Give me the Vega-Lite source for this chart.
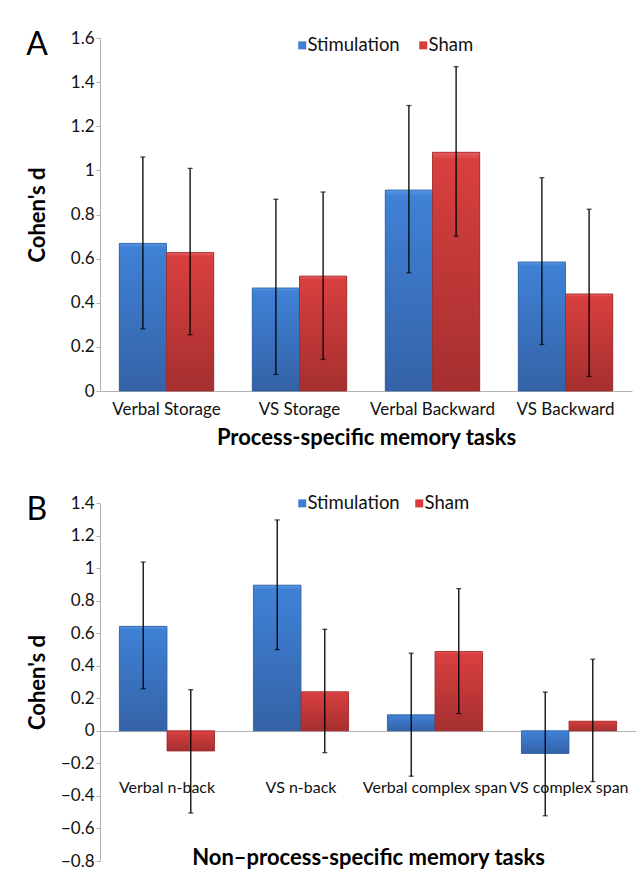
{
  "$schema": "https://vega.github.io/schema/vega-lite/v6.json",
  "padding": {"top": 29, "left": 26, "right": 0, "bottom": 0},
  "spacing": 46,
  "background": "white",
  "datasets": {
    "A": [
      {"task": "Verbal Storage", "series": "Stimulation", "d": 0.669, "lo": 0.282, "hi": 1.061},
      {"task": "Verbal Storage", "series": "Sham", "d": 0.628, "lo": 0.255, "hi": 1.009},
      {"task": "VS Storage", "series": "Stimulation", "d": 0.467, "lo": 0.075, "hi": 0.869},
      {"task": "VS Storage", "series": "Sham", "d": 0.521, "lo": 0.143, "hi": 0.902},
      {"task": "Verbal Backward", "series": "Stimulation", "d": 0.911, "lo": 0.536, "hi": 1.294},
      {"task": "Verbal Backward", "series": "Sham", "d": 1.082, "lo": 0.702, "hi": 1.47},
      {"task": "VS Backward", "series": "Stimulation", "d": 0.585, "lo": 0.211, "hi": 0.967},
      {"task": "VS Backward", "series": "Sham", "d": 0.44, "lo": 0.066, "hi": 0.824}
    ],
    "B": [
      {"task": "Verbal n-back", "series": "Stimulation", "d": 0.642, "lo": 0.259, "hi": 1.037},
      {"task": "Verbal n-back", "series": "Sham", "d": -0.124, "lo": -0.505, "hi": 0.253},
      {"task": "VS n-back", "series": "Stimulation", "d": 0.895, "lo": 0.499, "hi": 1.296},
      {"task": "VS n-back", "series": "Sham", "d": 0.24, "lo": -0.134, "hi": 0.624},
      {"task": "Verbal complex span", "series": "Stimulation", "d": 0.098, "lo": -0.279, "hi": 0.477},
      {"task": "Verbal complex span", "series": "Sham", "d": 0.487, "lo": 0.106, "hi": 0.874},
      {"task": "VS complex span", "series": "Stimulation", "d": -0.139, "lo": -0.522, "hi": 0.238},
      {"task": "VS complex span", "series": "Sham", "d": 0.059, "lo": -0.312, "hi": 0.44}
    ]
  },
  "vconcat": [
    {
      "width": 532,
      "height": 353,
      "data": {"name": "A"},
      "title": {"text": "A", "anchor": "start", "frame": "bounds", "fontSize": 32, "fontWeight": "normal", "baseline": "top", "offset": -33, "font": "Lato", "color": "#000000"},
      "encoding": {
        "x": {
          "field": "task", "type": "nominal", "sort": null,
          "scale": {"paddingInner": 0.29, "paddingOuter": 0.145},
          "axis": {"title": "Process-specific memory tasks", "labelAngle": 0, "ticks": false, "labelPadding": 10, "titlePadding": 10}
        },
        "xOffset": {"field": "series", "type": "nominal", "scale": {"domain": ["Stimulation", "Sham"]}}
      },
      "layer": [
        {
          "mark": {"type": "bar"},
          "encoding": {
            "y": {"field": "d", "type": "quantitative", "title": "Cohen's d",
              "scale": {"domain": [0, 1.6], "nice": false},
              "axis": {"values": [0, 0.2, 0.4, 0.6, 0.8, 1, 1.2, 1.4, 1.6], "format": "~g", "tickSize": 4, "labelPadding": 2, "titlePadding": 21, "labelOverlap": false}},
            "color": {"field": "series", "type": "nominal",
              "scale": {"domain": ["Stimulation", "Sham"], "range": ["#3d7fd4", "#d63c3c"]},
              "legend": {"orient": "none", "legendX": 193, "legendY": -2, "direction": "horizontal", "title": null, "symbolType": "square", "symbolSize": 64, "labelFontSize": 18.5, "columnPadding": 14, "labelOffset": -4, "padding": 0, "symbolStrokeWidth": 0, "labelFont": "Lato", "labelColor": "#111111"}}
          }
        },
        {
          "transform": [{"filter": "datum.series === 'Stimulation'"}],
          "mark": {"type": "bar", "stroke": "#2f5f9e", "strokeWidth": 0.8,
            "fill": {"gradient": "linear", "x1": 0, "y1": 0, "x2": 0, "y2": 1, "stops": [{"offset": 0, "color": "#5a97e2"}, {"offset": 0.03, "color": "#3f81d6"}, {"offset": 1, "color": "#3462a6"}]}},
          "encoding": {"y": {"field": "d", "type": "quantitative", "title": "Cohen's d"}}
        },
        {
          "transform": [{"filter": "datum.series === 'Sham'"}],
          "mark": {"type": "bar", "stroke": "#9c2b2b", "strokeWidth": 0.8,
            "fill": {"gradient": "linear", "x1": 0, "y1": 0, "x2": 0, "y2": 1, "stops": [{"offset": 0, "color": "#e76060"}, {"offset": 0.03, "color": "#d83f3f"}, {"offset": 1, "color": "#a52f2f"}]}},
          "encoding": {"y": {"field": "d", "type": "quantitative", "title": "Cohen's d"}}
        },
        {
          "mark": {"type": "rule", "color": "#000000", "strokeWidth": 1.3},
          "encoding": {"y": {"field": "lo", "type": "quantitative", "title": "Cohen's d"}, "y2": {"field": "hi"}}
        },
        {
          "mark": {"type": "tick", "color": "#000000", "size": 5, "thickness": 1.3},
          "encoding": {"y": {"field": "lo", "type": "quantitative", "title": "Cohen's d"}}
        },
        {
          "mark": {"type": "tick", "color": "#000000", "size": 5, "thickness": 1.3},
          "encoding": {"y": {"field": "hi", "type": "quantitative", "title": "Cohen's d"}}
        }
      ]
    },
    {
      "width": 536,
      "height": 358,
      "data": {"name": "B"},
      "title": {"text": "B", "anchor": "start", "frame": "bounds", "fontSize": 32, "fontWeight": "normal", "baseline": "top", "offset": -33, "font": "Lato", "color": "#000000"},
      "encoding": {
        "x": {
          "field": "task", "type": "nominal", "sort": null,
          "scale": {"paddingInner": 0.29, "paddingOuter": 0.145},
          "axis": {"title": "Non\u2013process-specific memory tasks", "labelAngle": 0, "ticks": false, "offset": -130, "labelPadding": 48, "titlePadding": 52, "labelFontSize": 16}
        },
        "xOffset": {"field": "series", "type": "nominal", "scale": {"domain": ["Stimulation", "Sham"]}}
      },
      "layer": [
        {
          "mark": {"type": "bar"},
          "encoding": {
            "y": {"field": "d", "type": "quantitative", "title": "Cohen's d",
              "scale": {"domain": [-0.8, 1.4], "nice": false},
              "axis": {"tickCount": 11, "format": "~g", "tickSize": 4, "labelPadding": 2, "titlePadding": 11, "labelOverlap": false}},
            "color": {"field": "series", "type": "nominal",
              "scale": {"domain": ["Stimulation", "Sham"], "range": ["#3d7fd4", "#d63c3c"]},
              "legend": {"orient": "none", "legendX": 193, "legendY": -9, "direction": "horizontal", "title": null, "symbolType": "square", "symbolSize": 64, "labelFontSize": 18.5, "columnPadding": 10, "labelOffset": -4, "padding": 0, "symbolStrokeWidth": 0, "labelFont": "Lato", "labelColor": "#111111"}}
          }
        },
        {
          "transform": [{"filter": "datum.series === 'Stimulation'"}],
          "mark": {"type": "bar", "stroke": "#2f5f9e", "strokeWidth": 0.8,
            "fill": {"gradient": "linear", "x1": 0, "y1": 0, "x2": 0, "y2": 1, "stops": [{"offset": 0, "color": "#5a97e2"}, {"offset": 0.03, "color": "#3f81d6"}, {"offset": 1, "color": "#3462a6"}]}},
          "encoding": {"y": {"field": "d", "type": "quantitative", "title": "Cohen's d"}}
        },
        {
          "transform": [{"filter": "datum.series === 'Sham'"}],
          "mark": {"type": "bar", "stroke": "#9c2b2b", "strokeWidth": 0.8,
            "fill": {"gradient": "linear", "x1": 0, "y1": 0, "x2": 0, "y2": 1, "stops": [{"offset": 0, "color": "#e76060"}, {"offset": 0.03, "color": "#d83f3f"}, {"offset": 1, "color": "#a52f2f"}]}},
          "encoding": {"y": {"field": "d", "type": "quantitative", "title": "Cohen's d"}}
        },
        {
          "mark": {"type": "rule", "color": "#000000", "strokeWidth": 1.3},
          "encoding": {"y": {"field": "lo", "type": "quantitative", "title": "Cohen's d"}, "y2": {"field": "hi"}}
        },
        {
          "mark": {"type": "tick", "color": "#000000", "size": 5, "thickness": 1.3},
          "encoding": {"y": {"field": "lo", "type": "quantitative", "title": "Cohen's d"}}
        },
        {
          "mark": {"type": "tick", "color": "#000000", "size": 5, "thickness": 1.3},
          "encoding": {"y": {"field": "hi", "type": "quantitative", "title": "Cohen's d"}}
        }
      ]
    }
  ],
  "resolve": {
    "scale": {"x": "independent", "y": "independent", "xOffset": "independent"},
    "legend": {"color": "independent"}
  },
  "config": {
    "font": "Lato",
    "view": {"stroke": null},
    "axis": {
      "labelFont": "Lato", "labelFontSize": 17, "labelColor": "#111111",
      "titleFont": "Lato", "titleFontSize": 22, "titleFontWeight": "bold", "titleColor": "#000000",
      "domainColor": "#b3b3b3", "tickColor": "#b3b3b3", "grid": false
    },
    "axisY": {"labelOverlap": false}
  }
}
